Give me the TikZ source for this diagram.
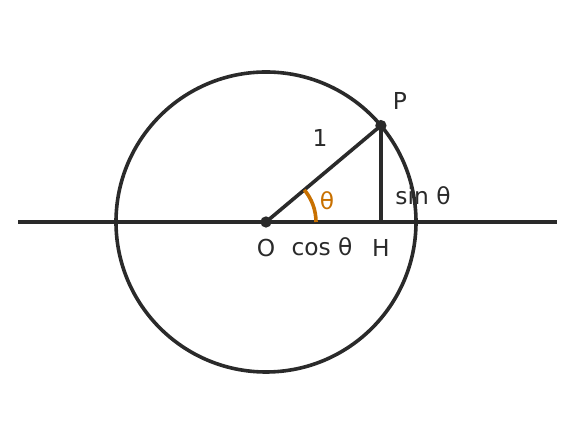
\documentclass[tikz,border=0pt]{standalone}
\usepackage{fontspec}
\setmainfont{DejaVu Sans}
\usetikzlibrary{calc}
\definecolor{ink}{RGB}{42,42,42}
\definecolor{orng}{RGB}{200,112,0}
\begin{document}
\begin{tikzpicture}[x=0.75pt,y=0.75pt,
  lbl/.style={inner sep=0pt,text=ink,font=\fontsize{17.5}{20}\selectfont},
  thick line/.style={draw=ink,line width=2.7pt},
  dot/.style={circle,fill=ink,inner sep=0pt,minimum size=8.5pt}]
\useasboundingbox (0,0) rectangle (576,445);
\coordinate (O) at (266,223);
\coordinate (P) at ($(O)+(40:150)$);
\coordinate (H) at (P |- O);
\coordinate (L) at (18,223);
\coordinate (R) at (557,223);
\draw[thick line] (L) -- (R);
\draw[thick line] (O) circle[radius=150];
\draw[thick line] (O) -- (P);
\draw[thick line] (P) -- (H);
\draw[draw=orng,line width=2.7pt] ($(O)+(0:50)$) arc[start angle=0,end angle=40,radius=50];
\node[dot] (Od) at (O) {};
\node[dot] (Pd) at (P) {};
\node[lbl] (lP) at (400,344) {P};
\node[lbl] (l1) at (320,307) {1};
\node[lbl,text=orng] (lt) at (327,244) {θ};
\node[lbl] (ls) at (423,249) {sin θ};
\node[lbl] (lO) at (266,197) {O};
\node[lbl] (lc) at (322,198) {cos θ};
\node[lbl] (lH) at (381,197) {H};
\end{tikzpicture}
\end{document}
